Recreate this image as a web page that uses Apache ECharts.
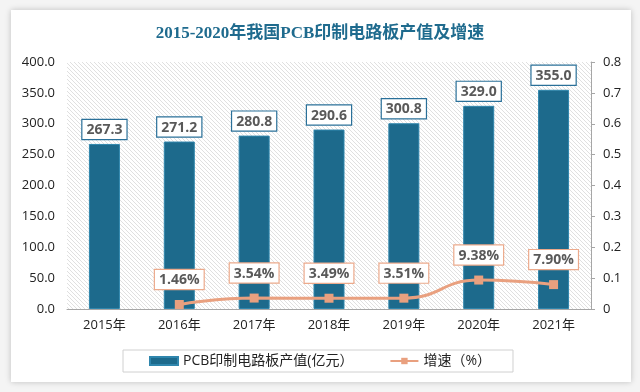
<!DOCTYPE html>
<html><head><meta charset="utf-8">
<script src="https://cdn.jsdelivr.net/npm/echarts@6/dist/echarts.min.js"></script>
<style>
html,body{margin:0;padding:0;background:#f4f4f4;}
#card{position:absolute;left:11px;top:10px;width:620px;height:372px;background:#fff;box-shadow:0 0 6px rgba(0,0,0,0.22);}
#main{position:absolute;left:0;top:0;width:640px;height:392px;}
</style></head>
<body>
<div id="card"></div>
<div id="main"></div>
<script>
const titleText = '2015-2020年我国PCB印制电路板产值及增速';
const categories = ['2015年','2016年','2017年','2018年','2019年','2020年','2021年'];
const outputValues = [267.3, 271.2, 280.8, 290.6, 300.8, 329.0, 355.0];
const growthRates = ['-', 0.0146, 0.0354, 0.0349, 0.0351, 0.0938, 0.0790];
const barName = 'PCB印制电路板产值(亿元）';
const lineName = '增速（%）';

// hatch pattern
const pc = document.createElement('canvas');
pc.width = 4; pc.height = 4;
const ctx = pc.getContext('2d');
ctx.fillStyle = '#ffffff'; ctx.fillRect(0,0,4,4);
ctx.strokeStyle = '#dcdcdc'; ctx.lineWidth = 0.9;
ctx.beginPath();
ctx.moveTo(0,0); ctx.lineTo(4,4);
ctx.moveTo(-2,2); ctx.lineTo(2,6);
ctx.moveTo(2,-2); ctx.lineTo(6,2);
ctx.stroke();

const chart = echarts.init(document.getElementById('main'), null, {renderer:'canvas'});
const font = '"Open Sans","Noto Sans CJK SC",sans-serif';
chart.setOption({
  backgroundColor: 'transparent',
  animation: false,
  title: {
    text: titleText, left: 'center', top: 20,
    textStyle: {fontFamily:'"Liberation Serif","Noto Sans CJK SC",serif', fontSize:17, fontWeight:'bold', color:'#1f6b8e'}
  },
  legend: {
    bottom: 20, left: 'center',
    borderColor:'#d0d0d0', borderWidth:1, padding:[4,22,4,26],
    itemGap: 36, itemWidth: 28, itemHeight: 8,
    textStyle:{fontFamily:font, fontSize:14, color:'#222'},
    data:[{name:barName, icon:'rect'}, {name:lineName}]
  },
  grid: {left:67, right:49, top:62, bottom:83, show:true, borderWidth:0,
    backgroundColor:{image:pc, repeat:'repeat'}},
  xAxis: {
    type:'category', data:categories,
    axisLine:{lineStyle:{color:'#a6a6a6', width:1}},
    axisTick:{show:false},
    axisLabel:{fontFamily:font, fontSize:13, color:'#222', margin:10}
  },
  yAxis: [{
    type:'value', min:0, max:400, interval:50,
    splitLine:{show:false}, axisLine:{show:false}, axisTick:{show:false},
    axisLabel:{fontFamily:font, fontSize:13, color:'#222', margin:12, formatter:v=>v.toFixed(1)}
  },{
    type:'value', min:0, max:0.8, interval:0.1,
    splitLine:{show:false},
    axisLine:{show:true, lineStyle:{color:'#a6a6a6'}},
    axisTick:{show:true, length:4, lineStyle:{color:'#a6a6a6'}},
    axisLabel:{fontFamily:font, fontSize:13, color:'#222', margin:12, formatter:v=> v===0?'0':v.toFixed(1)}
  }],
  series: [{
    name: barName, type:'bar', data: outputValues, barWidth: 31,
    itemStyle:{color:'#1d6a8c', borderColor:'#2f86ad', borderWidth:1},
    label:{show:true, position:'top', distance:5, formatter:p=>p.value.toFixed(1),
      fontFamily:font, fontSize:14, fontWeight:'bold', color:'#595959',
      backgroundColor:'#fff', borderColor:'#2a7099', borderWidth:1.2, padding:[3,4,2,4]}
  },{
    name: lineName, type:'line', yAxisIndex:1, data: growthRates, smooth:true,
    symbol:'rect', symbolSize:9,
    lineStyle:{color:'#e9a07f', width:3},
    itemStyle:{color:'#e9a07f'},
    label:{show:true, position:'top', distance:11, formatter:p=>(p.value*100).toFixed(2)+'%',
      fontFamily:font, fontSize:14, fontWeight:'bold', color:'#595959',
      backgroundColor:'#fff', borderColor:'#ecaa8c', borderWidth:1.2, padding:[3,4,2,4]}
  }]
});
</script>
</body></html>
